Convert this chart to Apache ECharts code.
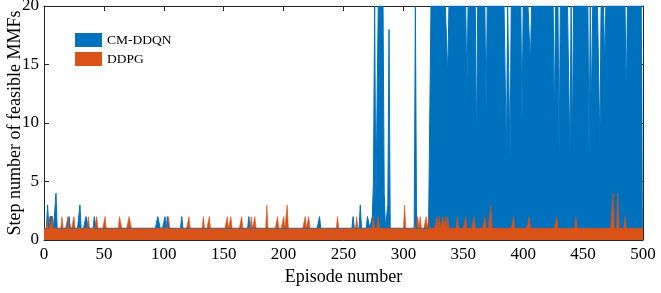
<!DOCTYPE html>
<html>
<head>
<meta charset="utf-8">
<script src="https://cdn.jsdelivr.net/npm/echarts@6/dist/echarts.min.js"></script>
<style>
  html, body { margin: 0; padding: 0; background: #fff; }
  #main { width: 661px; height: 293px; }
</style>
</head>
<body>
<div id="main"></div>
<script>
// step number per episode (episode 0..500), 25 values per line
const cmDdqn = [
  1,1,1,3,1,2,2,2,1,1,4,1,1,1,1,1,1,1,1,1,1,2,1,1,1,
  1,1,1,1,1,3,1,1,1,1,2,2,1,1,1,1,1,2,1,1,1,1,1,1,1,
  1,1,1,1,1,1,1,1,1,1,1,1,1,1,1,1,1,1,1,1,1,1,1,1,1,
  1,1,1,1,1,1,1,1,1,1,1,1,1,1,1,1,1,1,1,1,2,2,1,1,1,
  1,2,1,2,1,1,1,1,1,1,1,1,1,1,1,2,1,1,1,1,1,1,1,1,1,
  1,1,1,1,1,1,1,1,1,1,1,1,1,1,1,1,1,1,1,1,1,1,1,1,1,
  1,1,1,1,1,1,1,1,1,1,1,1,1,1,1,1,1,1,1,1,1,2,1,1,1,
  1,1,1,1,1,1,1,1,1,1,1,1,1,1,1,1,1,1,1,1,1,1,1,1,1,
  1,1,1,1,1,1,1,1,1,1,1,1,1,1,1,1,1,1,1,1,1,1,1,1,1,
  1,1,1,1,1,2,1,1,1,1,1,1,1,1,1,1,1,1,1,1,1,1,1,1,1,
  1,1,1,1,1,1,1,1,2,1,1,1,1,1,3,1,1,1,1,1,2,2,1,1,2,
  5,20,3,3,20,20,20,20,20,4,1,1,3,18,1,1,1,1,1,1,1,1,1,1,1,
  1,1,1,1,1,1,1,1,1,1,20,1,1,1,1,1,1,1,1,1,1,1,1,20,20,
  20,20,20,20,20,20,20,20,20,20,20,20,14,20,20,20,20,20,20,20,20,20,20,20,20,
  20,20,20,13,20,20,20,20,20,20,20,8,20,20,20,20,20,20,20,11,20,20,20,20,20,
  20,20,20,20,20,20,20,20,20,20,20,7,20,20,7,20,20,20,20,20,20,20,20,20,10,
  20,20,20,20,20,20,15,20,20,20,20,20,20,20,20,20,20,20,20,20,20,20,20,20,20,
  20,10,20,20,20,7,20,20,20,20,20,20,20,20,7,20,8,20,20,20,20,20,20,20,20,
  20,20,20,20,20,7,20,11,20,20,20,20,20,20,8,20,20,20,15,20,20,20,20,20,20,
  20,20,20,20,20,20,20,20,20,20,20,12,20,20,20,20,20,20,20,20,20,20,20,20,20,
  20
];

const ddpg = [
  1,1,1,1,2,1,1,2,1,1,1,1,1,1,1,2,1,1,1,1,2,1,1,1,1,
  2,1,1,1,1,1,1,1,1,1,1,1,2,1,1,1,1,1,1,2,1,1,1,1,1,
  1,2,1,1,1,1,1,1,1,1,1,1,1,2,2,1,1,1,1,1,1,2,2,1,1,
  1,1,1,1,1,1,1,1,1,1,1,1,1,1,1,1,1,1,1,1,1,1,1,1,1,
  1,1,1,1,2,1,1,1,1,1,1,1,1,1,1,1,1,1,1,1,1,2,1,1,1,
  1,1,1,1,1,1,1,1,2,1,1,1,1,2,1,1,1,1,1,1,1,1,1,1,1,
  1,1,1,2,1,1,2,1,1,1,1,1,1,1,1,2,1,1,1,1,1,1,1,2,1,
  1,2,1,1,1,1,1,1,1,1,1,3,1,1,1,1,1,1,1,1,2,1,1,1,1,
  2,1,1,3,1,1,1,1,1,1,1,1,1,1,1,1,1,1,2,1,1,2,1,1,1,
  1,1,1,1,1,1,1,1,1,1,1,1,1,1,1,1,1,1,1,1,2,1,1,1,1,
  1,1,1,1,1,1,1,1,1,1,1,2,1,1,1,1,1,1,1,1,1,1,1,1,1,
  2,1,1,1,2,1,1,1,1,1,1,1,1,1,1,1,1,1,1,1,1,1,1,1,1,
  1,3,1,1,1,1,1,1,1,1,1,1,2,1,2,1,1,1,1,2,1,2,1,1,1,
  1,1,1,2,1,2,1,1,2,1,2,1,2,1,1,1,1,1,1,1,2,1,1,1,1,
  1,1,2,1,1,1,1,1,1,2,1,1,1,1,1,1,1,1,2,1,1,1,1,3,1,
  1,1,1,1,1,1,1,1,1,1,1,1,1,1,1,1,1,2,1,1,1,1,1,1,1,
  1,1,1,1,1,2,1,1,1,1,1,1,1,1,1,1,1,1,1,1,1,1,1,1,1,
  1,1,1,2,1,1,1,1,1,1,1,1,1,1,1,1,1,1,1,2,1,1,1,1,1,
  1,1,1,1,1,1,1,1,1,1,1,1,1,1,1,1,1,1,1,1,1,1,1,1,1,
  4,1,1,1,4,1,1,1,1,1,2,1,1,1,1,1,1,1,1,1,1,1,1,1,1,
  1
];

const xTicks = [0, 500, 50];   // min, max, interval
const yTicks = [0, 20, 5];

const fontFam = '"Liberation Serif", "Times New Roman", serif';
const axisCol = '#262626';

const chart = echarts.init(document.getElementById('main'));

const toPairs = arr => arr.map((v, i) => [i, v]);

const baseAxis = {
  axisLine: { show: true, onZero: false, lineStyle: { color: axisCol, width: 1 } },
  axisTick: { show: true, inside: true, length: 5, lineStyle: { color: axisCol } },
  splitLine: { show: false },
};

const option = {
  animation: false,
  grid: { left: 44, right: 18, top: 6, bottom: 53, containLabel: false, outerBoundsMode: 'none' },
  legend: {
    left: 75,
    top: 33,
    padding: 0,
    orient: 'vertical',
    itemWidth: 27,
    itemHeight: 14,
    itemGap: 5,
    icon: 'rect',
    textStyle: { fontFamily: fontFam, fontSize: 13.5, color: '#000' },
    data: ['CM-DDQN', 'DDPG'],
  },
  xAxis: [
    {
      ...baseAxis,
      type: 'value',
      min: xTicks[0], max: xTicks[1], interval: xTicks[2],
      name: 'Episode number',
      nameLocation: 'middle',
      nameGap: 24,
      nameTextStyle: { fontFamily: fontFam, fontSize: 18, color: '#000' },
      axisLabel: { fontFamily: fontFam, fontSize: 17, color: '#000', margin: 6 },
    },
    {
      ...baseAxis,
      type: 'value',
      position: 'top',
      min: xTicks[0], max: xTicks[1], interval: xTicks[2],
      axisLabel: { show: false },
    },
  ],
  yAxis: [
    {
      ...baseAxis,
      type: 'value',
      min: yTicks[0], max: yTicks[1], interval: yTicks[2],
      name: 'Step number of feasible MMFs',
      nameLocation: 'middle',
      nameGap: 20,
      nameMoveOverlap: false,
      nameTextStyle: { fontFamily: fontFam, fontSize: 18, color: '#000' },
      axisLabel: { fontFamily: fontFam, fontSize: 17, color: '#000', margin: 5 },
    },
    {
      ...baseAxis,
      type: 'value',
      position: 'right',
      min: yTicks[0], max: yTicks[1], interval: yTicks[2],
      axisLabel: { show: false },
    },
  ],
  series: [
    {
      name: 'CM-DDQN',
      type: 'line',
      showSymbol: false,
      symbol: 'none',
      itemStyle: { color: '#0072BD' },
      lineStyle: { color: '#0072BD', width: 1 },
      areaStyle: { color: '#0072BD', opacity: 1 },
      data: toPairs(cmDdqn),
    },
    {
      name: 'DDPG',
      type: 'line',
      showSymbol: false,
      symbol: 'none',
      itemStyle: { color: '#D95319' },
      lineStyle: { color: '#D95319', width: 0.6 },
      areaStyle: { color: '#D95319', opacity: 1 },
      data: toPairs(ddpg),
    },
  ],
};

chart.setOption(option);
</script>
</body>
</html>
